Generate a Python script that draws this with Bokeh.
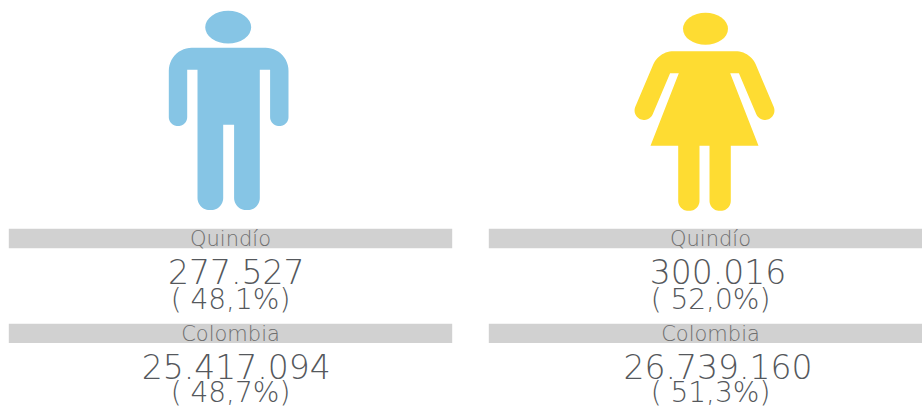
import numpy as np
from bokeh.embed import file_html
from bokeh.models import Range1d
from bokeh.plotting import figure
from bokeh.resources import INLINE
from bokeh.core.properties import value

# ---- data ----
regions = ["Quindío", "Colombia"]
men_counts = [277527, 25417094]
men_shares = [48.1, 48.7]
women_counts = [300016, 26739160]
women_shares = [52.0, 51.3]

# ---- styles ----
MAN = "#86C5E5"
WOMAN = "#FEDC32"
BAND = "#D1D1D1"
INK = "#55585C"
FONT = "DejaVu Sans Light"


def count_label(n):
    return f"{n:,}".replace(",", ".")


def share_label(s):
    return "( " + f"{s:.1f}".replace(".", ",") + "%)"


def outline(corners):
    """Closed polygon from (x, y, fillet radius) corners."""
    pts = []
    n = len(corners)
    for i, (x, y, r) in enumerate(corners):
        c = np.array([x, y], float)
        if r == 0:
            pts.append(c)
            continue
        a = np.array(corners[i - 1][:2], float) - c
        b = np.array(corners[(i + 1) % n][:2], float) - c
        a /= np.linalg.norm(a)
        b /= np.linalg.norm(b)
        half = np.arccos(np.clip(a @ b, -1, 1)) / 2
        d = r / np.tan(half)
        centre = c + (a + b) / np.linalg.norm(a + b) * (r / np.sin(half))
        p0, p1 = c + a * d - centre, c + b * d - centre
        t0 = np.arctan2(p0[1], p0[0])
        t1 = np.arctan2(p1[1], p1[0])
        dt = (t1 - t0 + np.pi) % (2 * np.pi) - np.pi
        for t in np.linspace(t0, t0 + dt, 14):
            pts.append(centre + r * np.array([np.cos(t), np.sin(t)]))
    arr = np.array(pts)
    return arr[:, 0], arr[:, 1]


def mirrored(half, axis):
    """half goes from top centre to bottom centre; reflect it about x=axis."""
    right = [(2 * axis - x, y, r) for x, y, r in reversed(half)]
    return half + right


man_half = [
    (168.3, 47.3, 23), (168.3, 125.6, 9), (186.7, 125.6, 9), (186.7, 69.3, 0),
    (197, 69.3, 0), (197, 209.5, 12), (222.7, 209.5, 12), (222.7, 124.3, 0),
]
woman_half = [
    (658.4, 50.7, 22), (631.1, 115.0, 9.5), (648.5, 122.4, 9.5), (669.6, 72.7, 0),
    (678.3, 72.7, 0), (650, 145.3, 0), (677.7, 145.3, 0), (677.7, 210.3, 10),
    (699, 210.3, 10), (699, 145.3, 0),
]

p = figure(width=922, height=408, output_backend="svg", toolbar_location=None,
           x_range=Range1d(0, 922), y_range=Range1d(408, 0),
           x_axis_type=None, y_axis_type=None, min_border=0,
           outline_line_color=None, background_fill_color="white")
p.grid.visible = False

mx, my = outline(mirrored(man_half, 228.15))
p.patch(mx, my, fill_color=MAN, line_color=None)
p.ellipse(x=[227.7], y=[26.7], width=46, height=32.7, fill_color=MAN, line_color=None)

wx, wy = outline(mirrored(woman_half, 704))
p.patch(wx, wy, fill_color=WOMAN, line_color=None)
p.ellipse(x=[705], y=[28.3], width=45, height=32, fill_color=WOMAN, line_color=None)

panels = [
    (8.3, 451.7, 230, 235.7, men_counts, men_shares),
    (488.3, 922, 710, 717.5, women_counts, women_shares),
]
band_tops = [228.3, 323.3]
band_bottoms = [247.7, 342.5]
label_mid = [238, 333]
count_mid = [271, 366]
share_mid = [299, 391.5]

for left, right, cx, cx_num, counts, shares in panels:
    p.quad(left=left, right=right, top=band_tops, bottom=band_bottoms,
           fill_color=BAND, line_color=None)
    p.text(x=[cx] * 2, y=label_mid, text=regions, text_align="center",
           text_baseline="middle", text_font=value(FONT),
           text_font_size="21px", text_color="#6E6E6E")
    p.text(x=[cx_num] * 2, y=count_mid, text=[count_label(v) for v in counts],
           text_align="center", text_baseline="middle", text_font=value(FONT),
           text_font_size="33px", text_color=INK)
    p.text(x=[cx] * 2, y=share_mid, text=[share_label(v) for v in shares],
           text_align="center", text_baseline="middle", text_font=value(FONT),
           text_font_size="28px", text_color=INK)

open("out.html", "w").write(file_html(p, INLINE))
